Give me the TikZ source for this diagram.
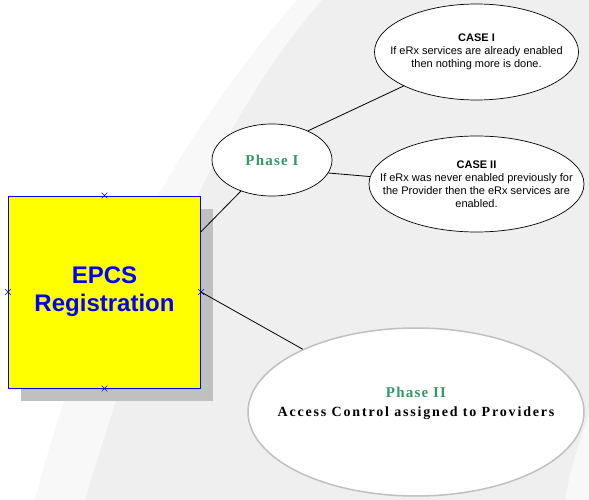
\documentclass[tikz,border=0pt]{standalone}
\usepackage{fontspec}
\setmainfont{Liberation Serif}
\newfontfamily\casefont{Liberation Sans}
\newfontfamily\phasefont[LetterSpace=8]{Liberation Serif}
\newfontfamily\accessfont[LetterSpace=13]{Liberation Serif}
\usepackage{tikz}
\usetikzlibrary{shapes.geometric, shapes.misc, shadows}
\definecolor{bggray}{HTML}{EFEFEF}
\definecolor{bandgray}{HTML}{F8F8F8}
\definecolor{shadowgray}{HTML}{C0C0C0}
\definecolor{phasegreen}{HTML}{339966}
\definecolor{regblue}{HTML}{0000FF}
\definecolor{regyellow}{HTML}{FFFF00}

\begin{document}
\begin{tikzpicture}[x=1pt, y=-1pt, line width=0.8pt,
  bubble/.style={ellipse, draw=black, line width=0.7pt, fill=white, inner sep=0pt},
  casetext/.style={align=center, font=\casefont\fontsize{11}{13}\selectfont},
  marker/.style={cross out, draw=regblue, line width=0.6pt, minimum size=5pt, inner sep=0pt}]
  \useasboundingbox (0,0) rectangle (589,500);

  % Hintergrund
  \fill[bggray] (0,0) rectangle (589,500);
  \fill[bandgray] (0,0) -- (322,0) .. controls (225,110) and (150,280) .. (85,500) -- (0,500) -- cycle;
  \fill[white] (0,0) -- (297,0) .. controls (200,110) and (90,280) .. (35,500) -- (0,500) -- cycle;
  \fill[bandgray] (589,415) .. controls (578,445) and (570,470) .. (565,500) -- (589,500) -- cycle;

  % Registrierung
  \node[rectangle, draw=regblue, line width=1pt, fill=regyellow,
        minimum width=192pt, minimum height=192pt,
        drop shadow={fill=shadowgray, opacity=1, shadow xshift=12.5pt, shadow yshift=-12.5pt},
        text=regblue, align=center, font=\casefont\bfseries\fontsize{24}{28}\selectfont]
        (reg) at (104.5,292) {EPCS\\Registration};
  \foreach \side in {north, south, east, west}
    \node[marker] (m-\side) at (reg.\side) {};

  % Phasen
  \node[bubble, minimum width=120pt, minimum height=72pt, text=phasegreen,
        font=\phasefont\bfseries\fontsize{15}{18}\selectfont] (ph1) at (272,160) {Phase I};
  \node[bubble, draw=shadowgray, line width=1.5pt, minimum width=336pt, minimum height=168pt,
        label={[align=center, yshift=9pt, font=\fontsize{14}{19}\selectfont]center:{{\phasefont\bfseries\color{phasegreen}\fontsize{15}{19}\selectfont Phase II}\\
          {\accessfont\bfseries\fontsize{14}{19}\selectfont Access Control assigned to Providers}}}]
        (ph2) at (416,412) {};

  % Fälle
  \node[bubble, minimum width=204pt, minimum height=96pt,
        label={[casetext]center:{\textbf{CASE I}\\If eRx services are already enabled\\then nothing more is done.}}]
        (case1) at (476.5,52) {};
  \node[bubble, minimum width=215pt, minimum height=96pt,
        label={[casetext]center:{\textbf{CASE II}\\If eRx was never enabled previously for\\the Provider then the eRx services are\\enabled.}}]
        (case2) at (476.5,184) {};

  % Verbindungen
  \draw (reg.32) -- (ph1.225);
  \draw (ph1.39) -- (case1.205);
  \draw (ph1.347) -- (case2.176);
  \draw (reg.east) -- (ph2.151);
\end{tikzpicture}
\end{document}
